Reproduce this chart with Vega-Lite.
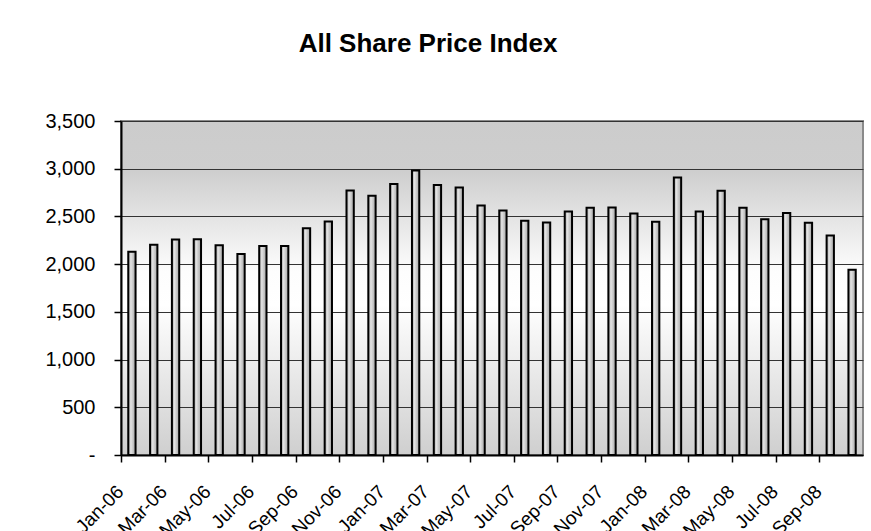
{
  "$schema": "https://vega.github.io/schema/vega-lite/v6.json",
  "autosize": {"type": "none"},
  "width": 742,
  "height": 334,
  "padding": {"left": 121, "top": 121, "right": 8, "bottom": 76},
  "background": "white",
  "title": {
    "text": "All Share Price Index",
    "font": "Liberation Sans",
    "fontSize": 26,
    "fontWeight": "bold",
    "color": "black",
    "anchor": "middle",
    "frame": "group",
    "baseline": "alphabetic",
    "offset": 33,
    "dx": -64
  },
  "config": {
    "view": {
      "fill": {
        "gradient": "linear",
        "x1": 0, "y1": 0, "x2": 0, "y2": 1,
        "stops": [
          {"offset": 0, "color": "#cccccc"},
          {"offset": 0.15, "color": "#cecece"},
          {"offset": 0.45, "color": "#fdfdfd"},
          {"offset": 0.55, "color": "#ffffff"},
          {"offset": 1, "color": "#cfcfcf"}
        ]
      },
      "stroke": "#8a8a8a",
      "strokeWidth": 2
    }
  },
  "data": {
    "values": [
      {"month": "Jan-06", "index": 2130},
      {"month": "Feb-06", "index": 2204},
      {"month": "Mar-06", "index": 2257},
      {"month": "Apr-06", "index": 2260},
      {"month": "May-06", "index": 2198},
      {"month": "Jun-06", "index": 2106},
      {"month": "Jul-06", "index": 2191},
      {"month": "Aug-06", "index": 2191},
      {"month": "Sep-06", "index": 2377},
      {"month": "Oct-06", "index": 2446},
      {"month": "Nov-06", "index": 2773},
      {"month": "Dec-06", "index": 2717},
      {"month": "Jan-07", "index": 2840},
      {"month": "Feb-07", "index": 2980},
      {"month": "Mar-07", "index": 2829},
      {"month": "Apr-07", "index": 2804},
      {"month": "May-07", "index": 2615},
      {"month": "Jun-07", "index": 2562},
      {"month": "Jul-07", "index": 2454},
      {"month": "Aug-07", "index": 2436},
      {"month": "Sep-07", "index": 2552},
      {"month": "Oct-07", "index": 2591},
      {"month": "Nov-07", "index": 2594},
      {"month": "Dec-07", "index": 2531},
      {"month": "Jan-08", "index": 2443},
      {"month": "Feb-08", "index": 2909},
      {"month": "Mar-08", "index": 2552},
      {"month": "Apr-08", "index": 2769},
      {"month": "May-08", "index": 2591},
      {"month": "Jun-08", "index": 2471},
      {"month": "Jul-08", "index": 2535},
      {"month": "Aug-08", "index": 2433},
      {"month": "Sep-08", "index": 2299},
      {"month": "Oct-08", "index": 1941}
    ]
  },
  "mark": {
    "type": "bar",
    "stroke": "black",
    "strokeWidth": 2,
    "fill": {
      "gradient": "linear",
      "x1": 0, "y1": 0, "x2": 1, "y2": 0,
      "stops": [
        {"offset": 0, "color": "#9c9c9c"},
        {"offset": 0.35, "color": "#e4e4e4"},
        {"offset": 0.65, "color": "#c6c6c6"},
        {"offset": 1, "color": "#a4a4a4"}
      ]
    }
  },
  "encoding": {
    "x": {
      "field": "month",
      "type": "ordinal",
      "sort": null,
      "scale": {"paddingInner": 0.665, "paddingOuter": 0.3325},
      "axis": {
        "title": null,
        "labelAngle": -45,
        "labelAlign": "right",
        "labelBaseline": "top",
        "labelFont": "Liberation Sans",
        "labelFontSize": 19,
        "labelColor": "black",
        "labelPadding": 20,
        "labelOffset": -7.5,
        "labelOverlap": false,
        "labelExpr": "indexof(['Jan','Mar','May','Jul','Sep','Nov'], slice(datum.value, 0, 3)) >= 0 ? datum.value : ''",
        "tickSize": 7,
        "tickColor": "black",
        "tickWidth": 1.5,
        "tickOffset": -10.91,
        "tickOpacity": {"condition": {"test": "indexof(['Jan','Mar','May','Jul','Sep','Nov'], slice(datum.value, 0, 3)) >= 0", "value": 1}, "value": 0},
        "domainColor": "black",
        "domainWidth": 2,
        "grid": false
      }
    },
    "y": {
      "field": "index",
      "type": "quantitative",
      "scale": {"domain": [0, 3500], "nice": false, "zero": true},
      "axis": {
        "title": null,
        "values": [0, 500, 1000, 1500, 2000, 2500, 3000, 3500],
        "labelExpr": "datum.value == 0 ? '-\u00a0\u00a0\u00a0\u00a0' : format(datum.value, ',')",
        "labelFont": "Liberation Sans",
        "labelFontSize": 20,
        "labelColor": "black",
        "labelPadding": 19,
        "tickSize": 7,
        "tickColor": "black",
        "tickWidth": 1.5,
        "domainColor": "black",
        "domainWidth": 2,
        "grid": true,
        "gridColor": "#333333",
        "gridWidth": 1.2
      }
    }
  }
}
